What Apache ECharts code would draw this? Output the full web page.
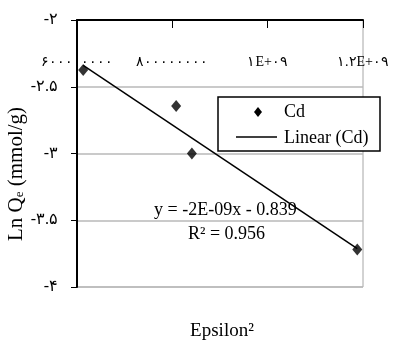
<!DOCTYPE html>
<html><head><meta charset="utf-8">
<script src="https://cdn.jsdelivr.net/npm/echarts@6/dist/echarts.min.js"></script>
<style>html,body{margin:0;padding:0;background:#fff}#c{width:395px;height:340px}</style>
</head><body><div id="c"></div>
<script>
var xValues = [6.13e8, 8.08e8, 8.41e8, 1.188e9];
var yValues = [-2.375, -2.644, -3.0, -3.72];
var xTicks = [6e8, 8e8, 1e9, 1.2e9];
var xTickLabels = ['۶۰۰۰۰۰۰۰۰', '۸۰۰۰۰۰۰۰۰', '۱E+۰۹', '۱.۲E+۰۹'];
var yTicks = [-4, -3.5, -3, -2.5, -2];
var yTickLabels = ['-۴', '-۳.۵', '-۳', '-۲.۵', '-۲'];
var seriesName = 'Cd';
var trendName = 'Linear (Cd)';
var equationText = 'y = -2E-09x - 0.839';
var r2Text = 'R² = 0.956';

// least squares trend line from the data
var n = xValues.length, mx = 0, my = 0;
for (var i = 0; i < n; i++) { mx += xValues[i] / n; my += yValues[i] / n; }
var sxy = 0, sxx = 0;
for (var i = 0; i < n; i++) { sxy += (xValues[i] - mx) * (yValues[i] - my); sxx += (xValues[i] - mx) * (xValues[i] - mx); }
var slope = sxy / sxx, icpt = my - slope * mx;
var xmin = Math.min.apply(null, xValues), xmax = Math.max.apply(null, xValues);
var trend = [[xmin, icpt + slope * xmin], [xmax, icpt + slope * xmax]];

var serif = '"Liberation Serif", "Times New Roman", "DejaVu Serif", serif';
var chart = echarts.init(document.getElementById('c'), null, {renderer: 'canvas'});
chart.setOption({
  animation: false,
  grid: {left: 77, right: 32, top: 20, bottom: 53, show: true, borderColor: '#a6a6a6', borderWidth: 1},
  xAxis: {
    type: 'value', position: 'top', min: 6e8, max: 1.2e9, interval: 2e8,
    axisLine: {lineStyle: {color: '#000', width: 2}},
    axisTick: {inside: true, length: 8, lineStyle: {color: '#000', width: 1}},
    splitLine: {show: false},
    axisLabel: {inside: true, margin: 35, color: '#000', fontSize: 14, fontFamily: serif,
      formatter: function (v) { var k = xTicks.indexOf(v); return k >= 0 ? xTickLabels[k] : ''; }}
  },
  yAxis: {
    type: 'value', min: -4, max: -2, interval: 0.5,
    axisLine: {show: true, onZero: false, lineStyle: {color: '#000', width: 2}},
    axisTick: {show: true, length: 6, lineStyle: {color: '#000'}},
    splitLine: {show: true, lineStyle: {color: '#b8b8b8', width: 1.5}},
    axisLabel: {margin: 19, color: '#000', fontSize: 16, fontFamily: serif,
      formatter: function (v) { for (var k = 0; k < yTicks.length; k++) if (Math.abs(yTicks[k] - v) < 1e-9) return yTickLabels[k]; return ''; }}
  },
  series: [
    {name: trendName, type: 'line', data: trend, showSymbol: false, symbol: 'none',
     lineStyle: {color: '#000', width: 1.5}, z: 2},
    {name: seriesName, type: 'scatter', data: xValues.map(function (x, i) { return [x, yValues[i]]; }),
     symbol: 'diamond', symbolSize: [10, 12], itemStyle: {color: '#000'}, z: 3}
  ],
  graphic: [
    {type: 'rect', z: 10, shape: {x: 218, y: 97, width: 162, height: 54}, style: {fill: '#fff', stroke: '#000', lineWidth: 1.5}},
    {type: 'polygon', z: 11, shape: {points: [[258, 107], [262, 112], [258, 117], [254, 112]]}, style: {fill: '#000'}},
    {type: 'text', z: 11, x: 284, y: 112, style: {text: seriesName, font: '18px ' + serif, fill: '#000', verticalAlign: 'middle'}},
    {type: 'line', z: 11, shape: {x1: 236, y1: 137, x2: 277, y2: 137}, style: {stroke: '#000', lineWidth: 1.5}},
    {type: 'text', z: 11, x: 284, y: 138, style: {text: trendName, font: '18px ' + serif, fill: '#000', verticalAlign: 'middle'}},
    {type: 'text', z: 11, x: 154, y: 210, style: {text: equationText, font: '18px ' + serif, fill: '#000', verticalAlign: 'middle'}},
    {type: 'text', z: 11, x: 188, y: 234, style: {text: r2Text, font: '18px ' + serif, fill: '#000', verticalAlign: 'middle'}},
    {type: 'text', z: 11, x: 222, y: 331, style: {text: 'Epsilon²', font: '19px ' + serif, fill: '#000', align: 'center', verticalAlign: 'middle'}},
    {type: 'text', z: 11, x: 16, y: 174, rotation: Math.PI / 2,
     style: {text: 'Ln Q{s|e} (mmol/g)', font: '21px ' + serif, fill: '#000', align: 'center', verticalAlign: 'middle',
       rich: {s: {fontSize: 13, fontFamily: serif, fill: '#000', padding: [8, 0, 0, 0]}}}}
  ]
});
</script></body></html>
